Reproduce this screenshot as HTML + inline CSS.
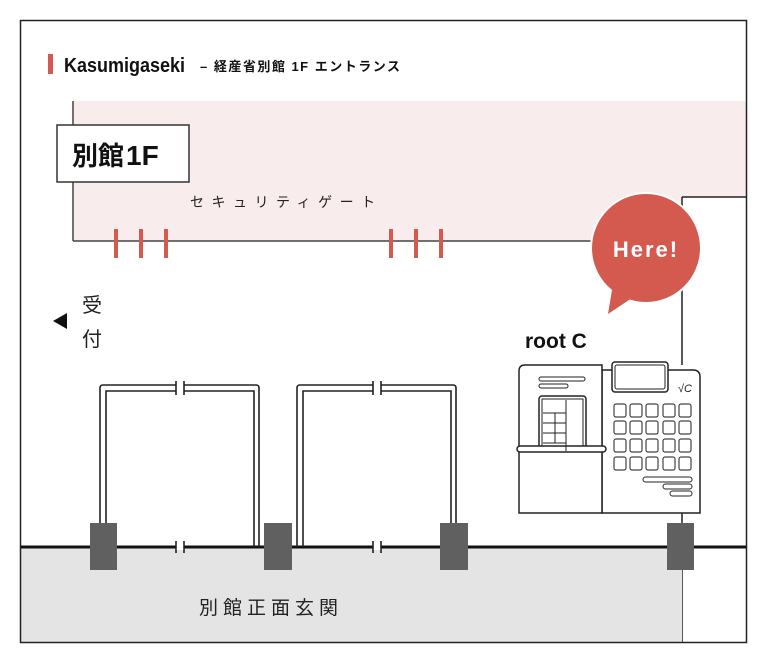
<!DOCTYPE html>
<html><head><meta charset="utf-8"><style>
html,body{margin:0;padding:0;background:#fff;}
svg{display:block;}
text{font-family:"Liberation Sans","Noto Sans CJK JP",sans-serif;}
</style></head><body>
<svg width="768" height="664" viewBox="0 0 768 664" xmlns="http://www.w3.org/2000/svg">
<rect x="0" y="0" width="768" height="664" fill="#fff"/>
<rect x="73" y="101" width="674" height="140" fill="#f8ecec"/>
<rect x="682" y="197" width="65" height="46" fill="#fff"/>
<line x1="73" y1="101" x2="73" y2="241" stroke="#444" stroke-width="1.5"/>
<line x1="73" y1="241" x2="600" y2="241" stroke="#444" stroke-width="1.5"/>
<line x1="682" y1="197" x2="747" y2="197" stroke="#222" stroke-width="1.5"/>
<line x1="682" y1="197" x2="682" y2="365" stroke="#222" stroke-width="1.5"/>
<line x1="682" y1="513" x2="682" y2="643" stroke="#222" stroke-width="1.5"/>
<rect x="20" y="547" width="662" height="96" fill="#e4e4e4"/>
<line x1="20" y1="547" x2="747" y2="547" stroke="#111" stroke-width="3"/>
<rect x="20.5" y="20.5" width="726" height="622" fill="none" stroke="#222" stroke-width="1.5"/>
<rect x="48" y="54" width="5" height="20" fill="#d45a4f"/>
<text x="64" y="72" font-size="20" font-weight="bold" fill="#111" transform="translate(64 0) scale(0.9 1) translate(-64 0)">Kasumigaseki</text>
<text x="200" y="71" font-size="13" font-weight="bold" fill="#111" letter-spacing="1.5">– 経産省別館 1F エントランス</text>
<rect x="57" y="125" width="132" height="57" fill="#fff" stroke="#333" stroke-width="1.5"/>
<text x="72" y="165" font-size="26" font-weight="bold" fill="#111">別館<tspan font-size="28" font-weight="900" dx="2">1F</tspan></text>
<text x="190" y="207" font-size="14" fill="#222" letter-spacing="7.5">セキュリティゲート</text>
<g fill="#d45a4f">
<rect x="114" y="229" width="4" height="29"/><rect x="139" y="229" width="4" height="29"/><rect x="164" y="229" width="4" height="29"/>
<rect x="389" y="229" width="4" height="29"/><rect x="414" y="229" width="4" height="29"/><rect x="439" y="229" width="4" height="29"/>
</g>
<polygon points="53,321 67,313 67,329" fill="#111"/>
<text x="82" y="312" font-size="20" fill="#222">受</text>
<text x="82" y="346" font-size="20" fill="#222">付</text>
<g fill="none" stroke="#222" stroke-width="1.6">
<path d="M100,535 V388 Q100,385 103,385 H176 M184,385 H256 Q259,385 259,388 V547"/>
<path d="M106,535 V391 H176 M184,391 H254 V547"/>
<path d="M176,381 V395 M184,381 V395 M176,541 V553 M184,541 V553"/>
<path d="M297,547 V388 Q297,385 300,385 H373 M381,385 H453 Q456,385 456,388 V535"/>
<path d="M303,547 V391 H373 M381,391 H451 V535"/>
<path d="M373,381 V395 M381,381 V395 M373,541 V553 M381,541 V553"/>
</g>
<rect x="176.8" y="545" width="6.4" height="5" fill="#fff"/>
<rect x="373.8" y="545" width="6.4" height="5" fill="#fff"/>
<g fill="#606060">
<rect x="90" y="523" width="27" height="47"/>
<rect x="264" y="523" width="28" height="47"/>
<rect x="440" y="523" width="28" height="47"/>
<rect x="667" y="523" width="27" height="47"/>
</g>
<circle cx="646" cy="248" r="56" fill="#fff"/>
<path d="M612,290 L608,314 L632,298 Z" fill="#d45a4f"/>
<circle cx="646" cy="248" r="54" fill="#d45a4f"/>
<text x="646" y="257" font-size="22" font-weight="bold" fill="#fff" text-anchor="middle" letter-spacing="2">Here!</text>
<text x="525" y="348" font-size="21" font-weight="bold" fill="#111">root C</text>
<g fill="#fff" stroke="#222" stroke-width="1.5">
<path d="M602,370 H693 Q700,370 700,377 V513 H602 Z"/>
<path d="M519,513 V371 Q519,365 525,365 H602 V513 Z"/>
<rect x="612" y="362" width="56" height="30" rx="3"/>
<rect x="615" y="365" width="50" height="24" rx="2" stroke-width="1"/>
<rect x="539" y="396" width="47" height="55" rx="3"/>
<rect x="542" y="399" width="41" height="52" stroke-width="1"/>
<rect x="517" y="446" width="89" height="6" rx="3"/>
<rect x="539" y="377" width="46" height="4" rx="2" stroke-width="1"/>
<rect x="539" y="384" width="29" height="4" rx="2" stroke-width="1"/>
<rect x="643" y="477" width="49" height="5" rx="2.5" stroke-width="1"/>
<rect x="663" y="484" width="29" height="5" rx="2.5" stroke-width="1"/>
<rect x="670" y="491" width="22" height="5" rx="2.5" stroke-width="1"/>
</g>
<g stroke="#222" stroke-width="1" fill="none">
<path d="M566,400 V451 M543,413 H566 M543,423 H566 M543,433 H566 M555,413 V443 M543,443 H566"/>
</g>
<text x="678" y="392" font-size="11" fill="#222" font-style="italic">√C</text>
<g fill="#fff" stroke="#444" stroke-width="1.2">
<rect x="614" y="404" width="12" height="13" rx="2"/><rect x="630" y="404" width="12" height="13" rx="2"/><rect x="646" y="404" width="12" height="13" rx="2"/><rect x="663" y="404" width="12" height="13" rx="2"/><rect x="679" y="404" width="12" height="13" rx="2"/>
<rect x="614" y="421" width="12" height="13" rx="2"/><rect x="630" y="421" width="12" height="13" rx="2"/><rect x="646" y="421" width="12" height="13" rx="2"/><rect x="663" y="421" width="12" height="13" rx="2"/><rect x="679" y="421" width="12" height="13" rx="2"/>
<rect x="614" y="439" width="12" height="13" rx="2"/><rect x="630" y="439" width="12" height="13" rx="2"/><rect x="646" y="439" width="12" height="13" rx="2"/><rect x="663" y="439" width="12" height="13" rx="2"/><rect x="679" y="439" width="12" height="13" rx="2"/>
<rect x="614" y="457" width="12" height="13" rx="2"/><rect x="630" y="457" width="12" height="13" rx="2"/><rect x="646" y="457" width="12" height="13" rx="2"/><rect x="663" y="457" width="12" height="13" rx="2"/><rect x="679" y="457" width="12" height="13" rx="2"/>
</g>
<text x="199" y="614" font-size="19" fill="#222" letter-spacing="5">別館正面玄関</text>
</svg>
</body></html>
